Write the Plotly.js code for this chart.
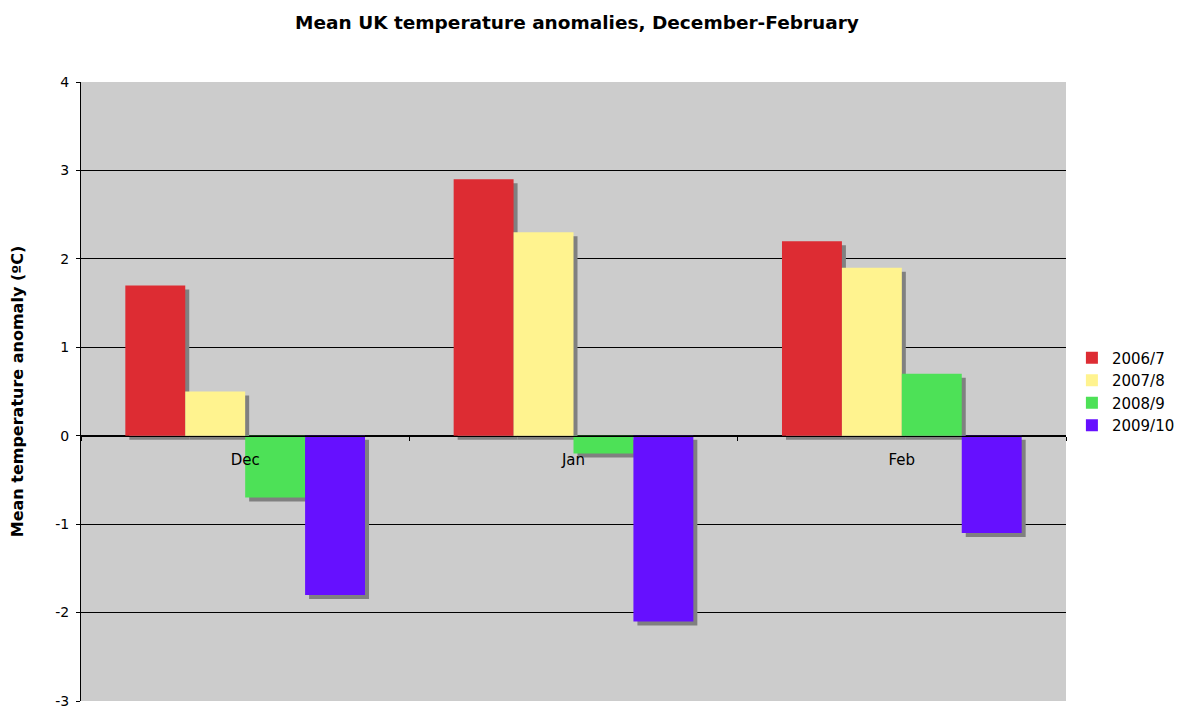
<!DOCTYPE html>
<html>
<head>
<meta charset="utf-8">
<script src="https://cdn.plot.ly/plotly-3.0.1.min.js"></script>
<style>html,body{margin:0;padding:0;background:#fff;}#chart{width:1177px;height:709px;}</style>
</head>
<body>
<div id="chart"></div>
<script>
// ---- data ----
var months = ["Dec", "Jan", "Feb"];
var seriesNames = ["2006/7", "2007/8", "2008/9", "2009/10"];
var s2006 = [1.7, 2.9, 2.2];
var s2007 = [0.5, 2.3, 1.9];
var s2008 = [-0.7, -0.2, 0.7];
var s2009 = [-1.8, -2.1, -1.1];
var yTicks = [-3, -2, -1, 0, 1, 2, 3, 4];

// ---- style ----
var colors = ["#DD2C33", "#FFF38F", "#4DE157", "#6610FF"];
var shadowColor = "#808080";
var W = 1177, H = 709;
var M = {l: 81, r: 111, t: 82, b: 8, autoexpand: false};
var SH = 4; // shadow offset in px
var xr = [-0.5, months.length - 0.5];
var yr = [yTicks[0], yTicks[yTicks.length - 1]];
var pxX = (W - M.l - M.r) / (xr[1] - xr[0]);
var pxY = (H - M.t - M.b) / (yr[1] - yr[0]);
var dx = SH / pxX, dy = SH / pxY;

var allSeries = [s2006, s2007, s2008, s2009];
var traces = [];
// shadows on base axes (drawn underneath)
allSeries.forEach(function (vals, i) {
  traces.push({
    type: "bar", x: months, y: vals, xaxis: "x", yaxis: "y",
    marker: {color: shadowColor, line: {width: 0}},
    showlegend: false, hoverinfo: "skip"
  });
});
// real bars on overlay axes
allSeries.forEach(function (vals, i) {
  traces.push({
    type: "bar", x: months, y: vals, xaxis: "x2", yaxis: "y2",
    name: seriesNames[i],
    marker: {color: colors[i], line: {width: 0}}
  });
});

var font = "DejaVu Sans, Verdana, sans-serif";
var layout = {
  width: W, height: H,
  margin: M,
  paper_bgcolor: "#ffffff",
  plot_bgcolor: "#CCCCCC",
  barmode: "group",
  bargap: 0.27,
  bargroupgap: 0,
  font: {family: font, size: 14, color: "#000"},
  title: {
    text: "<b>Mean UK temperature anomalies, December-February</b>",
    font: {family: font, size: 18.5, color: "#000"},
    x: 577 / W, xanchor: "center", y: 1 - 23 / H, yanchor: "middle"
  },
  xaxis: {
    type: "category", range: [xr[0] - dx, xr[1] - dx], domain: [0, 1],
    showgrid: false, zeroline: false, showline: false,
    showticklabels: false, ticks: "", fixedrange: true
  },
  yaxis: {
    range: [yr[0] + dy, yr[1] + dy], domain: [0, 1],
    showgrid: false, zeroline: false, showline: false,
    showticklabels: false, ticks: "", fixedrange: true
  },
  xaxis2: {
    type: "category", overlaying: "x", range: xr, domain: [0, 1],
    anchor: "free", position: (0 - yr[0]) / (yr[1] - yr[0]), side: "bottom",
    showgrid: false, zeroline: false,
    showline: true, linecolor: "#000", linewidth: 1,
    ticks: "outside", ticklen: 4, tickcolor: "#000", tickwidth: 1,
    tickson: "boundaries", ticklabelstandoff: 10,
    tickfont: {family: font, size: 15, color: "#000"}
  },
  yaxis2: {
    overlaying: "y", range: yr, domain: [0, 1], side: "left", anchor: "x2",
    tickvals: yTicks, ticktext: yTicks.map(String),
    showgrid: true, gridcolor: "#000", gridwidth: 1,
    zeroline: true, zerolinecolor: "#000", zerolinewidth: 1,
    showline: true, linecolor: "#000", linewidth: 1,
    ticks: "outside", ticklen: 4, tickcolor: "#000",
    ticklabelstandoff: 4, ticklabeloverflow: "allow",
    tickfont: {family: font, size: 14, color: "#000"},
    title: {text: "<b>Mean temperature anomaly (\u00BAC)</b>", font: {family: font, size: 16, color: "#000"}, standoff: 27}
  },
  legend: {
    x: 1.006, xanchor: "left", y: 0.5, yanchor: "middle",
    font: {family: font, size: 15, color: "#000"},
    bgcolor: "rgba(0,0,0,0)", borderwidth: 0,
    itemwidth: 30, tracegroupgap: 0, traceorder: "normal"
  },
  showlegend: true
};

Plotly.newPlot("chart", traces, layout, {displayModeBar: false, staticPlot: true});
</script>
</body>
</html>
